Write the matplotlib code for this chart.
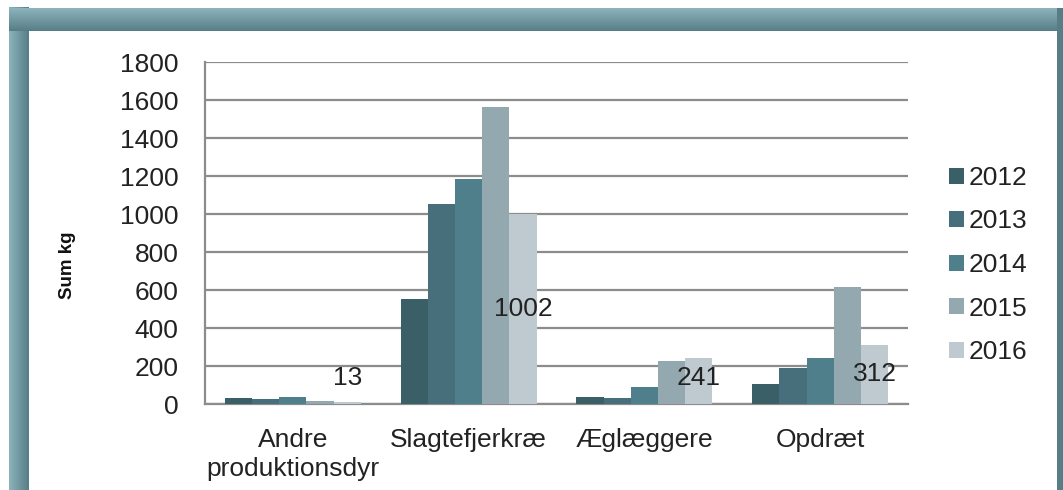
import numpy as np
import matplotlib
matplotlib.use("Agg")
import matplotlib.pyplot as plt
from matplotlib.patches import Patch

plt.rcParams["font.family"] = ["Liberation Sans", "DejaVu Sans"]

# ── Data ───────────────────────────────────────────────────────────────────
categories = ["Andre\nproduktionsdyr", "Slagtefjerkræ", "Æglæggere", "Opdræt"]
years = ["2012", "2013", "2014", "2015", "2016"]
v2012 = [32, 555, 35, 103]
v2013 = [28, 1053, 30, 190]
v2014 = [35, 1184, 90, 240]
v2015 = [18, 1563, 228, 615]
v2016 = [13, 1002, 241, 312]
yticks = [0, 200, 400, 600, 800, 1000, 1200, 1400, 1600, 1800]

# ── Style ──────────────────────────────────────────────────────────────────
COLORS = ["#3a5f67", "#466f7b", "#4f7f8b", "#93a9af", "#bfcad0"]
GRID = "#8c8c8c"
FS = 19
BAR_W = 0.155
W, H = 1063, 490

fig = plt.figure(figsize=(W / 100, H / 100), dpi=100)

# ── Teal frame (gradient bands) ────────────────────────────────────────────
bg = fig.add_axes([0, 0, 1, 1], zorder=-5)
bg.set_xlim(0, W)
bg.set_ylim(H, 0)
bg.axis("off")
light = np.array([0x8d, 0xb3, 0xbd]) / 255
dark = np.array([0x57, 0x7e, 0x87]) / 255
t = np.linspace(0, 1, 64)[:, None]
grad = light + (dark - light) * t
bg.imshow(grad[None, :, :], extent=[9, 29, H, 8], aspect="auto")
bg.imshow(grad[:, None, :], extent=[9, W, 31, 8], aspect="auto")
bg.fill_between([1057, W], 8, H, color=dark, lw=0)

# ── Chart ──────────────────────────────────────────────────────────────────
ax = fig.add_axes([205 / W, 1 - 404 / H, 703 / W, 342 / H])
series = [v2012, v2013, v2014, v2015, v2016]
x = np.arange(len(categories))
for j, (vals, col) in enumerate(zip(series, COLORS)):
    ax.bar(x + (j - 2) * BAR_W, vals, width=BAR_W, color=col,
           edgecolor="none", zorder=3)

# data labels for the last series, centred in the bar
for xi, v in zip(x, v2016):
    ax.text(xi + 2 * BAR_W, max(v / 2, 135), f"{v}", ha="center",
            va="center", fontsize=FS, color="#222222", zorder=4)

ax.set_xlim(-0.5, len(categories) - 0.5)
ax.set_ylim(0, 1800)
ax.set_yticks(yticks)
ax.set_yticklabels([str(v) for v in yticks], fontsize=FS, color="#222222")
ax.set_xticks(x)
ax.set_xticklabels(categories, fontsize=FS, color="#222222", linespacing=1.3)
ax.tick_params(axis="both", length=0)
ax.tick_params(axis="y", pad=19)
ax.tick_params(axis="x", pad=17)
ax.yaxis.grid(True, color=GRID, lw=1.6, zorder=0)
ax.set_axisbelow(True)
for s in ("top", "right"):
    ax.spines[s].set_visible(False)
for s in ("left", "bottom"):
    ax.spines[s].set_color(GRID)
    ax.spines[s].set_linewidth(1.6)

fig.text(68 / W, 1 - 265 / H, "Sum kg", rotation=90, fontsize=13.5,
         fontweight="bold", ha="center", va="center", color="#111111")

handles = [Patch(facecolor=c, edgecolor="none") for c in COLORS]
fig.legend(handles, years, loc="center left",
           bbox_to_anchor=(949 / W, 1 - 265 / H), frameon=False,
           fontsize=FS, handlelength=0.55, handleheight=0.55,
           handletextpad=0.2, labelspacing=0.74, borderpad=0,
           borderaxespad=0, labelcolor="#222222")

fig.savefig("out.png", dpi=100)
